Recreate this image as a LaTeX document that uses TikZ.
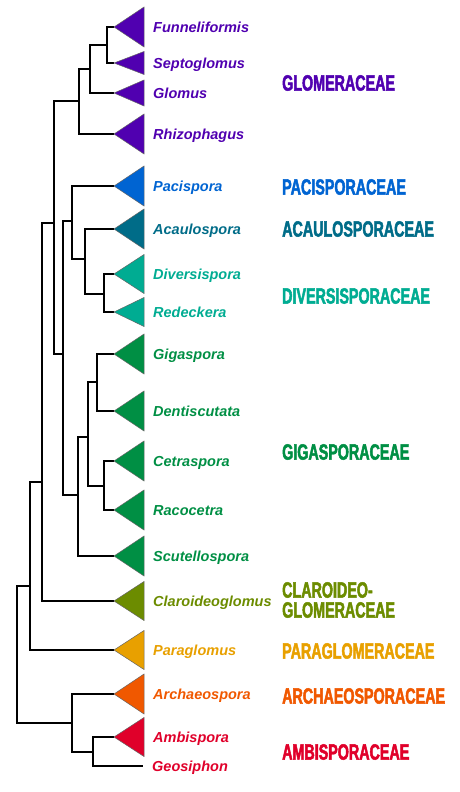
\documentclass[tikz,border=0pt]{standalone}
\usepackage{fontspec}
\setmainfont{Liberation Sans}
\newfontfamily\famfont{Liberation Sans}[FakeStretch=0.65, FakeBold=2.2]
\usetikzlibrary{positioning}

\definecolor{glomc}{HTML}{5000B0}
\definecolor{pacic}{HTML}{0064D2}
\definecolor{acauc}{HTML}{006C88}
\definecolor{diverc}{HTML}{00AC92}
\definecolor{gigac}{HTML}{008F44}
\definecolor{claroc}{HTML}{6C8C00}
\definecolor{parac}{HTML}{E8A000}
\definecolor{archc}{HTML}{F05800}
\definecolor{ambic}{HTML}{E0002A}

% collapsed clade drawn from its apex
\newcommand{\wedgeat}[3]{\filldraw[clade, fill=#3] (#1) -- ++(30,-#2) -- ++(0,2*#2) -- cycle;}

\begin{document}
\begin{tikzpicture}[x=1pt, y=-1pt,
        branch/.style={line width=1.4pt, black},
        clade/.style={draw=black!60, line width=0.5pt},
        genus/.style={inner sep=0pt, text height=10.5pt, text depth=3pt, yshift=-1.5pt, font=\fontsize{14.5}{16}\selectfont\bfseries\itshape},
        family/.style={anchor=west, inner sep=0pt, align=left, font=\famfont\bfseries\fontsize{22}{20}\selectfont}
    ]
        \useasboundingbox (0,0) rectangle (459,792);

        % Leaf apexes
        \coordinate (funnel) at (114,27);
        \coordinate (septo) at (114,63);
        \coordinate (glomus) at (114,93);
        \coordinate (rhizo) at (114,134);
        \coordinate (paci) at (114,186);
        \coordinate (acaulo) at (114,229);
        \coordinate (diversi) at (114,274);
        \coordinate (redeck) at (114,312);
        \coordinate (gigas) at (114,354);
        \coordinate (dentis) at (114,411);
        \coordinate (cetra) at (114,461);
        \coordinate (raco) at (114,510);
        \coordinate (scutel) at (114,556);
        \coordinate (claro) at (114,601);
        \coordinate (paraglo) at (114,650);
        \coordinate (archaeo) at (114,694);
        \coordinate (ambi) at (114,737);
        \coordinate (geosi) at (143,766);

        % Inner nodes
        \coordinate (nFS) at (107,45);
        \coordinate (nFSG) at (90,69);
        \coordinate (nGlom) at (79,101);
        \coordinate (nDR) at (104,294);
        \coordinate (nAD) at (85,259);
        \coordinate (nPAD) at (72,221);
        \coordinate (nGD) at (97,382);
        \coordinate (nCR) at (104,486);
        \coordinate (nGDCR) at (88,437);
        \coordinate (nGiga) at (78,495);
        \coordinate (nPG) at (63,354);
        \coordinate (nGP) at (54,223);
        \coordinate (nClaro) at (42,482);
        \coordinate (nPara) at (30,586);
        \coordinate (nAG) at (93,752);
        \coordinate (nArch) at (72,723);
        \coordinate (nRoot) at (17,650);

        % Branches
        \draw[branch] (nFS) |- (funnel) (nFS) |- (septo);
        \draw[branch] (nFSG) |- (nFS) (nFSG) |- (glomus);
        \draw[branch] (nGlom) |- (nFSG) (nGlom) |- (rhizo);
        \draw[branch] (nDR) |- (diversi) (nDR) |- (redeck);
        \draw[branch] (nAD) |- (acaulo) (nAD) |- (nDR);
        \draw[branch] (nPAD) |- (paci) (nPAD) |- (nAD);
        \draw[branch] (nGD) |- (gigas) (nGD) |- (dentis);
        \draw[branch] (nCR) |- (cetra) (nCR) |- (raco);
        \draw[branch] (nGDCR) |- (nGD) (nGDCR) |- (nCR);
        \draw[branch] (nGiga) |- (nGDCR) (nGiga) |- (scutel);
        \draw[branch] (nPG) |- (nPAD) (nPG) |- (nGiga);
        \draw[branch] (nGP) |- (nGlom) (nGP) |- (nPG);
        \draw[branch] (nClaro) |- (nGP) (nClaro) |- (claro);
        \draw[branch] (nPara) |- (nClaro) (nPara) |- (paraglo);
        \draw[branch] (nAG) |- (ambi) (nAG) |- (geosi);
        \draw[branch] (nArch) |- (archaeo) (nArch) |- (nAG);
        \draw[branch] (nRoot) |- (nPara) (nRoot) |- (nArch);

        % Collapsed clades
        \wedgeat{funnel}{20}{glomc}
        \wedgeat{septo}{11.5}{glomc}
        \wedgeat{glomus}{13}{glomc}
        \wedgeat{rhizo}{20}{glomc}
        \wedgeat{paci}{20}{pacic}
        \wedgeat{acaulo}{20}{acauc}
        \wedgeat{diversi}{19.5}{diverc}
        \wedgeat{redeck}{14.5}{diverc}
        \wedgeat{gigas}{20}{gigac}
        \wedgeat{dentis}{20}{gigac}
        \wedgeat{cetra}{20}{gigac}
        \wedgeat{raco}{20}{gigac}
        \wedgeat{scutel}{20}{gigac}
        \wedgeat{claro}{19.5}{claroc}
        \wedgeat{paraglo}{19.5}{parac}
        \wedgeat{archaeo}{20}{archc}
        \wedgeat{ambi}{19.5}{ambic}

        % Genus labels
        \node[genus, text=glomc, right=39pt of funnel] (lfunnel) {Funneliformis};
        \node[genus, text=glomc, right=39pt of septo] (lsepto) {Septoglomus};
        \node[genus, text=glomc, right=39pt of glomus] (lglomus) {Glomus};
        \node[genus, text=glomc, right=39pt of rhizo] (lrhizo) {Rhizophagus};
        \node[genus, text=pacic, right=39pt of paci] (lpaci) {Pacispora};
        \node[genus, text=acauc, right=39pt of acaulo] (lacaulo) {Acaulospora};
        \node[genus, text=diverc, right=39pt of diversi] (ldiversi) {Diversispora};
        \node[genus, text=diverc, right=39pt of redeck] (lredeck) {Redeckera};
        \node[genus, text=gigac, right=39pt of gigas] (lgigas) {Gigaspora};
        \node[genus, text=gigac, right=39pt of dentis] (ldentis) {Dentiscutata};
        \node[genus, text=gigac, right=39pt of cetra] (lcetra) {Cetraspora};
        \node[genus, text=gigac, right=39pt of raco] (lraco) {Racocetra};
        \node[genus, text=gigac, right=39pt of scutel] (lscutel) {Scutellospora};
        \node[genus, text=claroc, right=39pt of claro] (lclaro) {Claroideoglomus};
        \node[genus, text=parac, right=39pt of paraglo] (lparaglo) {Paraglomus};
        \node[genus, text=archc, right=39pt of archaeo] (larchaeo) {Archaeospora};
        \node[genus, text=ambic, right=39pt of ambi] (lambi) {Ambispora};
        \node[genus, text=ambic, right=9pt of geosi] (lgeosi) {Geosiphon};

        % Family labels
        \node[family, text=glomc] (fglom) at (282,83) {GLOMERACEAE};
        \node[family, text=pacic] (fpaci) at (282,187) {PACISPORACEAE};
        \node[family, text=acauc] (facau) at (282,229) {ACAULOSPORACEAE};
        \node[family, text=diverc] (fdiver) at (282,296) {DIVERSISPORACEAE};
        \node[family, text=gigac] (fgiga) at (282,452) {GIGASPORACEAE};
        \node[family, text=claroc] (fclaro) at (282,600) {CLAROIDEO-\\GLOMERACEAE};
        \node[family, text=parac] (fpara) at (282,651) {PARAGLOMERACEAE};
        \node[family, text=archc] (farch) at (282,696) {ARCHAEOSPORACEAE};
        \node[family, text=ambic] (fambi) at (282,752) {AMBISPORACEAE};
    \end{tikzpicture}
\end{document}
